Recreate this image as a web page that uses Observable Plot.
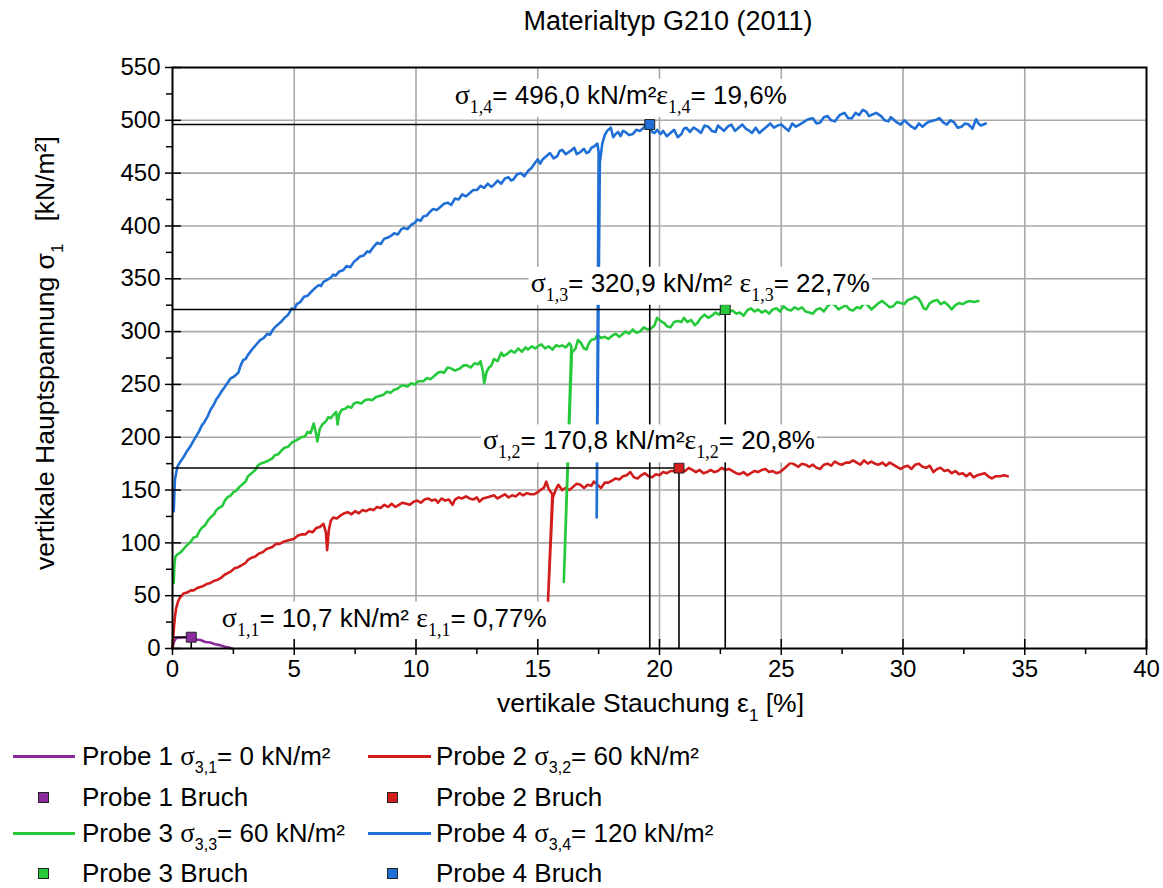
<!DOCTYPE html>
<html><head><meta charset="utf-8">
<script src="https://cdn.jsdelivr.net/npm/d3@7"></script>
<script src="https://cdn.jsdelivr.net/npm/@observablehq/plot@0.6"></script>
<style>
body{margin:0;background:#fff;font-family:"Liberation Sans",Arial,sans-serif;color:#000;}
#page{position:relative;width:1163px;height:888px;overflow:hidden;background:#fff;}
#title{position:absolute;top:6px;left:668px;transform:translateX(-50%);font-size:27px;white-space:nowrap;line-height:30px;}
#chart{position:absolute;top:45px;left:0;}
.lg{position:absolute;font-size:26px;white-space:nowrap;line-height:26px;height:26px;}
.lg .gr{font-family:"Liberation Serif","Times New Roman",serif;font-size:27px;}
.lg sub{font-size:16px;vertical-align:-8px;line-height:0;}
.sw{position:absolute;height:3px;}
.sq{position:absolute;width:11px;height:11px;box-sizing:border-box;border:1px solid #222;}
</style></head>
<body>
<div id="page">
  <div id="title"></div>
  <div id="chart"></div>
  <div id="legend"></div>
</div>
<script>
// ---------------- data ----------------
const title = "Materialtyp G210 (2011)";
const xLabel = "vertikale Stauchung ε_{1} [%]";
const yLabel = "vertikale Hauptspannung σ_{1}\u00a0\u00a0\u00a0[kN/m²]";
const xMajor = [0, 5, 10, 15, 20, 25, 30, 35, 40];
const xMinor = [2.5, 7.5, 12.5, 17.5, 22.5, 27.5, 32.5, 37.5];
const yMajor = [0, 50, 100, 150, 200, 250, 300, 350, 400, 450, 500, 550];
const yMinor = [25, 75, 125, 175, 225, 275, 325, 375, 425, 475, 525];

const seriesNames = ["Probe 1", "Probe 2", "Probe 3", "Probe 4"];
const seriesColors = ["#8a2a9c", "#d21d1d", "#25c93a", "#1f6fd6"];
const confining = ["σ_{3,1}= 0 kN/m²", "σ_{3,2}= 60 kN/m²", "σ_{3,3}= 60 kN/m²", "σ_{3,4}= 120 kN/m²"];

// [vertikale Stauchung %, vertikale Hauptspannung kN/m²]
const probe1 = [[0,0],[0.05,6],[0.15,10],[0.4,10.4],[0.77,10.7],[0.95,8.6],[1.15,8.0],[1.35,6.2],[1.55,5.6],[1.75,4.0],[1.95,3.2],[2.15,1.6],[2.35,0.6],[2.45,0]];

const probe2 = [[0,0],[0.03,10],[0.06,20],[0.1,30],[0.15,38],[0.22,44],[0.3,48],[0.45,52],[0.6,53],[0.75,55],[0.87,55],[1.0,57],[1.1,58],[1.25,59],[1.4,61],[1.56,62],[1.7,64],[1.85,65],[2.0,67],[2.15,70],[2.25,71],[2.4,73],[2.55,76],[2.7,77],[2.85,79],[3.0,81],[3.1,84],[3.25,86],[3.4,87],[3.55,90],[3.7,91],[3.85,94],[3.95,95],[4.1,96],[4.25,99],[4.4,99],[4.55,101],[4.7,102],[4.85,103],[5.0,104],[5.15,107],[5.3,108],[5.45,108],[5.6,111],[5.75,110],[5.9,114],[6.05,115],[6.2,118],[6.3,110],[6.35,93],[6.42,112],[6.5,121],[6.6,124],[6.75,123],[6.9,126],[7.05,128],[7.2,129],[7.35,127],[7.5,130],[7.65,128],[7.8,131],[7.95,130],[8.1,132],[8.25,131],[8.4,134],[8.55,133],[8.7,136],[8.85,134],[9.0,137],[9.15,134],[9.3,136],[9.45,138],[9.6,137],[9.75,136],[9.9,139],[10.05,140],[10.2,138],[10.35,141],[10.5,142],[10.65,140],[10.8,141],[10.9,138],[11.05,142],[11.2,140],[11.35,141],[11.5,136],[11.6,141],[11.75,143],[11.9,142],[12.05,144],[12.2,142],[12.35,141],[12.5,143],[12.6,139],[12.75,142],[12.9,143],[13.05,144],[13.2,145],[13.35,142],[13.5,144],[13.65,146],[13.8,143],[13.95,145],[14.1,144],[14.25,147],[14.4,145],[14.55,147],[14.7,146],[14.85,146],[15.0,148],[15.1,150],[15.25,152],[15.35,158],[15.45,151],[15.6,146],[15.42,44],[15.62,143],[15.75,151],[15.85,155],[16.0,150],[16.15,152],[16.3,150],[16.45,153],[16.6,156],[16.75,155],[16.9,152],[17.05,155],[17.2,154],[17.3,158],[17.45,155],[17.6,152],[17.75,157],[17.9,157],[18.05,159],[18.2,161],[18.35,160],[18.5,163],[18.65,164],[18.8,167],[18.95,162],[19.1,161],[19.25,164],[19.4,166],[19.55,163],[19.7,162],[19.85,165],[20.0,164],[20.15,167],[20.3,166],[20.45,168],[20.6,168],[20.75,171],[20.9,169],[21.05,168],[21.2,171],[21.35,169],[21.5,167],[21.65,169],[21.8,166],[21.95,167],[22.1,169],[22.25,167],[22.4,168],[22.55,171],[22.7,169],[22.85,170],[23.0,168],[23.15,166],[23.3,165],[23.45,167],[23.6,164],[23.75,166],[23.9,168],[24.05,167],[24.2,169],[24.35,170],[24.5,167],[24.65,168],[24.8,166],[24.95,167],[25.1,170],[25.25,173],[25.4,176],[25.55,174],[25.7,172],[25.85,175],[26.0,174],[26.15,172],[26.3,174],[26.45,171],[26.6,170],[26.75,174],[26.9,175],[27.05,173],[27.2,177],[27.35,175],[27.5,174],[27.65,176],[27.8,176],[27.95,178],[28.1,176],[28.25,174],[28.4,178],[28.55,175],[28.7,177],[28.85,175],[29.0,174],[29.15,176],[29.3,173],[29.45,176],[29.6,174],[29.75,172],[29.9,170],[30.05,172],[30.2,173],[30.35,170],[30.5,174],[30.65,175],[30.8,172],[30.95,171],[31.1,173],[31.25,167],[31.4,170],[31.55,171],[31.7,168],[31.85,169],[32.0,166],[32.15,168],[32.3,165],[32.45,166],[32.6,163],[32.75,166],[32.9,162],[33.05,164],[33.2,165],[33.35,166],[33.5,163],[33.65,161],[33.8,163],[34.0,163],[34.15,164],[34.3,163]];

const probe3 = [[0.05,62],[0.08,80],[0.12,87],[0.2,89],[0.33,91],[0.45,94],[0.6,98],[0.75,101],[0.87,105],[1.0,106],[1.1,111],[1.2,114],[1.35,117],[1.45,121],[1.56,124],[1.7,127],[1.8,131],[1.9,133],[2.05,135],[2.15,140],[2.25,143],[2.4,145],[2.5,148],[2.6,149],[2.75,153],[2.9,156],[3.0,158],[3.1,163],[3.25,166],[3.4,169],[3.5,173],[3.6,175],[3.75,176],[3.95,178],[4.1,180],[4.2,183],[4.35,184],[4.5,188],[4.6,190],[4.75,191],[4.9,195],[5.0,196],[5.15,198],[5.3,200],[5.45,201],[5.55,205],[5.67,204],[5.8,213],[5.9,203],[5.95,196],[6.05,208],[6.15,212],[6.3,215],[6.4,219],[6.5,218],[6.6,221],[6.72,224],[6.78,212],[6.85,222],[6.95,226],[7.1,227],[7.2,229],[7.35,228],[7.45,232],[7.6,233],[7.75,232],[7.9,235],[8.05,236],[8.2,235],[8.35,238],[8.5,239],[8.65,240],[8.8,243],[8.95,242],[9.1,245],[9.25,246],[9.4,249],[9.5,249],[9.65,248],[9.8,251],[9.95,250],[10.1,253],[10.3,253],[10.45,256],[10.6,255],[10.75,258],[10.9,261],[11.0,262],[11.15,261],[11.3,266],[11.45,265],[11.6,263],[11.8,265],[11.95,268],[12.1,268],[12.25,266],[12.4,270],[12.55,269],[12.65,272],[12.75,262],[12.8,251],[12.9,262],[13.0,266],[13.1,268],[13.2,274],[13.35,272],[13.5,280],[13.6,277],[13.75,279],[13.9,282],[14.05,280],[14.2,284],[14.35,281],[14.5,285],[14.6,283],[14.75,286],[14.9,284],[15.0,286],[15.15,288],[15.3,284],[15.45,286],[15.6,283],[15.75,287],[15.9,286],[16.0,287],[16.15,285],[16.3,289],[16.38,286],[16.07,63],[16.4,280],[16.55,284],[16.65,292],[16.75,290],[16.9,284],[17.0,283],[17.1,289],[17.2,292],[17.35,293],[17.45,297],[17.6,294],[17.75,295],[17.9,293],[18.05,296],[18.2,298],[18.35,295],[18.5,298],[18.6,300],[18.75,298],[18.9,302],[19.05,299],[19.2,300],[19.35,304],[19.5,302],[19.65,303],[19.8,306],[19.9,313],[20.05,310],[20.2,308],[20.3,305],[20.45,304],[20.6,309],[20.75,310],[20.9,309],[21.0,313],[21.15,309],[21.3,311],[21.45,306],[21.55,308],[21.7,313],[21.85,316],[22.0,313],[22.15,315],[22.3,318],[22.45,316],[22.6,321],[22.7,321],[22.85,319],[23.0,320],[23.15,317],[23.3,318],[23.45,315],[23.6,320],[23.75,322],[23.9,319],[24.05,321],[24.2,318],[24.35,320],[24.5,317],[24.65,321],[24.8,322],[24.95,319],[25.1,324],[25.25,321],[25.4,320],[25.55,323],[25.7,321],[25.85,323],[26.0,319],[26.15,318],[26.3,317],[26.45,321],[26.6,322],[26.75,319],[26.9,324],[27.05,327],[27.2,325],[27.35,321],[27.5,323],[27.65,325],[27.8,321],[27.95,320],[28.1,323],[28.25,322],[28.4,327],[28.55,325],[28.7,321],[28.85,324],[29.0,327],[29.15,329],[29.3,326],[29.45,323],[29.6,324],[29.75,328],[29.9,327],[30.05,326],[30.2,330],[30.35,331],[30.5,333],[30.65,331],[30.75,327],[30.85,322],[30.95,321],[31.1,327],[31.25,329],[31.4,330],[31.55,326],[31.7,328],[31.85,325],[32.0,321],[32.15,325],[32.3,327],[32.45,326],[32.6,328],[32.75,329],[32.9,328],[33.1,329]];

const probe4 = [[0.05,130],[0.1,160],[0.2,172],[0.3,176],[0.45,181],[0.6,187],[0.75,192],[0.87,197],[1.0,202],[1.1,206],[1.2,211],[1.3,214],[1.45,220],[1.56,226],[1.7,231],[1.8,236],[1.9,239],[2.0,243],[2.1,246],[2.25,251],[2.4,256],[2.5,257],[2.6,259],[2.7,261],[2.8,268],[2.9,273],[3.0,274],[3.1,278],[3.2,281],[3.3,284],[3.45,288],[3.6,292],[3.75,294],[3.9,298],[4.0,297],[4.1,301],[4.2,304],[4.3,306],[4.45,309],[4.6,313],[4.75,316],[4.9,322],[5.0,321],[5.1,326],[5.25,328],[5.4,333],[5.55,334],[5.67,337],[5.8,340],[6.0,344],[6.1,343],[6.2,347],[6.35,349],[6.5,351],[6.6,354],[6.7,353],[6.85,357],[7.0,358],[7.15,362],[7.3,361],[7.45,366],[7.6,369],[7.7,371],[7.85,372],[8.0,376],[8.1,375],[8.25,380],[8.4,384],[8.55,383],[8.7,388],[8.85,389],[9.0,391],[9.1,393],[9.25,392],[9.4,397],[9.5,398],[9.65,397],[9.8,401],[9.95,403],[10.05,406],[10.2,405],[10.3,409],[10.45,410],[10.6,414],[10.7,416],[10.85,415],[11.0,418],[11.15,421],[11.3,422],[11.45,420],[11.6,426],[11.75,425],[11.9,430],[12.05,428],[12.2,431],[12.35,434],[12.5,434],[12.65,438],[12.8,436],[12.95,440],[13.1,437],[13.2,439],[13.35,443],[13.5,440],[13.65,445],[13.8,446],[13.9,443],[14.0,444],[14.15,449],[14.3,450],[14.45,447],[14.6,452],[14.75,455],[14.9,460],[15.0,463],[15.1,459],[15.2,463],[15.35,466],[15.5,469],[15.65,464],[15.8,466],[15.9,471],[16.0,472],[16.15,468],[16.35,471],[16.5,474],[16.6,468],[16.75,470],[16.9,473],[17.0,469],[17.1,470],[17.2,474],[17.3,475],[17.45,478],[17.5,470],[17.42,124],[17.55,460],[17.65,478],[17.75,486],[17.85,490],[18.0,493],[18.1,484],[18.2,487],[18.3,489],[18.4,485],[18.5,490],[18.6,489],[18.75,486],[18.9,487],[19.05,491],[19.2,490],[19.35,493],[19.5,498],[19.6,496],[19.7,489],[19.8,488],[19.9,491],[20.04,487],[20.15,490],[20.3,485],[20.45,488],[20.6,491],[20.75,484],[20.9,487],[21.0,492],[21.1,493],[21.25,489],[21.4,493],[21.55,491],[21.7,488],[21.85,495],[22.0,494],[22.15,490],[22.3,489],[22.4,495],[22.5,493],[22.65,490],[22.8,494],[22.95,496],[23.1,490],[23.25,493],[23.4,496],[23.55,492],[23.7,490],[23.8,488],[23.95,493],[24.1,488],[24.25,491],[24.4,494],[24.55,497],[24.7,493],[24.85,495],[25.0,496],[25.15,493],[25.3,490],[25.45,497],[25.6,494],[25.75,496],[25.9,498],[26.1,501],[26.3,502],[26.45,497],[26.6,498],[26.75,503],[26.9,504],[27.05,500],[27.2,499],[27.4,505],[27.6,507],[27.75,502],[27.9,502],[28.05,507],[28.2,505],[28.35,510],[28.5,508],[28.6,504],[28.7,505],[28.9,507],[29.1,504],[29.25,500],[29.4,499],[29.5,503],[29.6,501],[29.75,498],[29.9,496],[30.05,500],[30.2,497],[30.35,494],[30.5,492],[30.65,497],[30.8,494],[30.95,497],[31.1,499],[31.3,500],[31.5,502],[31.65,498],[31.8,496],[31.95,500],[32.1,498],[32.25,493],[32.4,494],[32.55,497],[32.7,496],[32.85,492],[33.0,501],[33.1,497],[33.2,495],[33.3,496],[33.4,497]];

// failure points (Bruch)
const bruchStrain = [0.77, 20.8, 22.7, 19.6];
const bruchStress = [10.7, 170.8, 320.9, 496.0];
const bruchLabels = [
  "σ_{1,1}= 10,7 kN/m² ε_{1,1}= 0,77%",
  "σ_{1,2}= 170,8 kN/m²ε_{1,2}= 20,8%",
  "σ_{1,3}= 320,9 kN/m² ε_{1,3}= 22,7%",
  "σ_{1,4}= 496,0 kN/m²ε_{1,4}= 19,6%"
];

// ---------------- layout / style ----------------
const labelOffsets = [[193, -19], [-30, -27], [-25, -26], [-29, -29]];
const SERIF = "Liberation Serif, Times New Roman, serif";
const SANS = "Liberation Sans, Arial, sans-serif";

const curves = [probe1, probe2, probe3, probe4];
const bruch = bruchStrain.map((x, i) => ({x, y: bruchStress[i], color: seriesColors[i], label: bruchLabels[i]}));

const axisStyle = {stroke: "black", strokeWidth: 1.5, fontSize: 24, label: null};

const plot = Plot.plot({
  width: 1163, height: 690,
  marginLeft: 172, marginRight: 17, marginTop: 22, marginBottom: 87,
  style: {fontFamily: SANS, fontSize: "24px", background: "white", color: "black"},
  x: {domain: [0, 40]},
  y: {domain: [0, 550]},
  color: {type: "identity"},
  marks: [
    Plot.gridX(xMajor.slice(1, -1), {stroke: "#a8a8a8", strokeOpacity: 1, strokeWidth: 1.6}),
    Plot.gridY(yMajor.slice(1, -1), {stroke: "#a8a8a8", strokeOpacity: 1, strokeWidth: 1.6}),
    ...curves.map((c, i) => Plot.line(c, {x: d => d[0], y: d => d[1], stroke: seriesColors[i], strokeWidth: 2.6, curve: "linear"})),
    Plot.ruleY(bruch, {x1: d => 0, x2: "x", y: "y", stroke: "black", strokeWidth: 1.6}),
    Plot.ruleX(bruch, {x: "x", y1: d => 0, y2: "y", stroke: "black", strokeWidth: 1.6}),
    Plot.dot(bruch, {x: "x", y: "y", symbol: "square", r: 5.6, fill: "color", stroke: "#222", strokeWidth: 1}),
    ...bruch.map((b, i) => Plot.text([b], {x: "x", y: "y", text: "label", fill: "black", fontSize: 26, dx: labelOffsets[i][0], dy: labelOffsets[i][1]})),
    Plot.frame({stroke: "black", strokeWidth: 2}),
    Plot.axisX(xMajor, {anchor: "bottom", tickSize: 7, tickPadding: 4, ...axisStyle}),
    Plot.axisX(xMajor, {anchor: "bottom", tickSize: -9, fill: "none", ...axisStyle}),
    Plot.axisX(xMinor, {anchor: "bottom", tickSize: 6, fill: "none", ...axisStyle}),
    Plot.axisY(yMajor, {anchor: "left", tickSize: 7, tickPadding: 5, ...axisStyle}),
    Plot.axisY(yMajor, {anchor: "left", tickSize: -9, fill: "none", ...axisStyle}),
    Plot.axisY(yMinor, {anchor: "left", tickSize: 6, fill: "none", ...axisStyle}),
    Plot.text([xLabel], {frameAnchor: "bottom", textAnchor: "middle", text: d => d, dx: -9, dy: 63, fontSize: 26.5, fill: "black"}),
    Plot.text([yLabel], {frameAnchor: "left", textAnchor: "start", text: d => d, rotate: -90, dx: -127, dy: 212, fontSize: 26.5, fill: "black"})
  ]
});
document.getElementById("chart").append(plot);
document.getElementById("title").textContent = title;

// rich text: greek letters & subscripts as tspans
const NS = "http://www.w3.org/2000/svg";
function richify(el, serif) {
  const s = el.textContent;
  if (!/[σε]|_\{/.test(s)) return false;
  el.textContent = "";
  const re = /_\{([^}]*)\}|([σε])|([^σε_]+|_)/g;
  let m, down = 0;
  while ((m = re.exec(s))) {
    const t = document.createElementNS(NS, "tspan");
    if (m[1] !== undefined) {
      t.textContent = m[1];
      t.setAttribute("font-size", serif ? 18 : 17);
      if (serif) t.setAttribute("font-family", SERIF);
      t.setAttribute("dy", 9); down = 9;
    } else {
      t.textContent = m[2] !== undefined ? m[2] : m[3];
      if (m[2] !== undefined && serif) { t.setAttribute("font-family", SERIF); t.setAttribute("font-size", 28); }
      if (down) { t.setAttribute("dy", -down); down = 0; }
    }
    el.appendChild(t);
  }
  return true;
}
plot.querySelectorAll("text").forEach(el => {
  const s = el.textContent;
  const isAnno = s.startsWith("σ_{1,");
  richify(el, isAnno);
  if (isAnno) {
    const bb = el.getBBox();
    const r = document.createElementNS(NS, "rect");
    r.setAttribute("x", bb.x - 2); r.setAttribute("y", bb.y);
    r.setAttribute("width", bb.width + 4); r.setAttribute("height", bb.height);
    r.setAttribute("fill", "white"); r.setAttribute("stroke", "none");
    if (el.getAttribute("transform")) r.setAttribute("transform", el.getAttribute("transform"));
    el.parentNode.insertBefore(r, el);
  }
});

// legend (HTML)
function richHTML(s) {
  return s.replace(/_\{([^}]*)\}/g, '<sub>$1</sub>').replace(/([σε])/g, '<span class="gr">$1</span>');
}
const legend = document.getElementById("legend");
const rowsY = [756, 797, 833, 873];
const colX = [[13, 75, 43, 82], [368, 431, 392, 436]];
seriesNames.forEach((name, i) => {
  const col = colX[i % 2];
  const rLine = rowsY[Math.floor(i / 2) * 2];
  const rSq = rowsY[Math.floor(i / 2) * 2 + 1];
  const sw = document.createElement("div");
  sw.className = "sw";
  Object.assign(sw.style, {left: col[0] + "px", width: (col[1] - col[0]) + "px", top: (rLine - 1.5) + "px", background: seriesColors[i]});
  legend.appendChild(sw);
  const t1 = document.createElement("div");
  t1.className = "lg";
  t1.innerHTML = name + " " + richHTML(confining[i]);
  Object.assign(t1.style, {left: col[3] + "px", top: (rLine - 13) + "px"});
  legend.appendChild(t1);
  const sq = document.createElement("div");
  sq.className = "sq";
  Object.assign(sq.style, {left: (col[2] - 5.5) + "px", top: (rSq - 5.5) + "px", background: seriesColors[i]});
  legend.appendChild(sq);
  const t2 = document.createElement("div");
  t2.className = "lg";
  t2.textContent = name + " Bruch";
  Object.assign(t2.style, {left: col[3] + "px", top: (rSq - 13) + "px"});
  legend.appendChild(t2);
});
</script>
</body></html>
